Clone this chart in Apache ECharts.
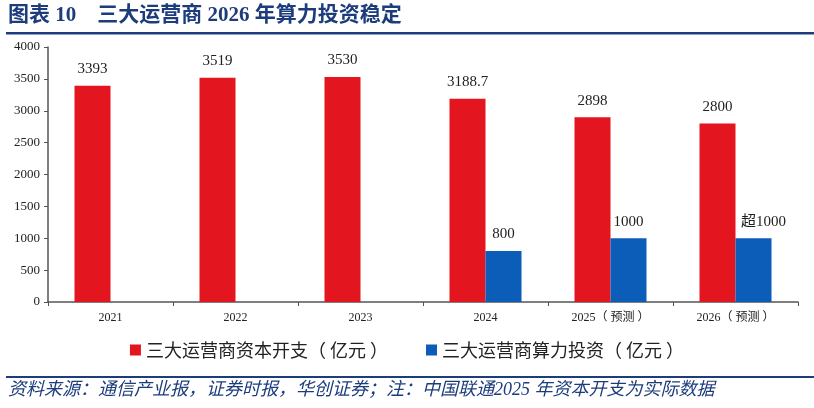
<!DOCTYPE html>
<html>
<head>
<meta charset="utf-8">
<script src="https://cdn.jsdelivr.net/npm/echarts@6/dist/echarts.min.js"></script>
<style>
html, body { margin: 0; padding: 0; background: #fff; }
#chart { width: 814px; height: 408px; }
</style>
</head>
<body>
<div id="chart"></div>
<script>
var years = ['2021', '2022', '2023', '2024', '2025（ 预测 ）', '2026（ 预测 ）'];
var capex = [3393, 3519, 3530, 3188.7, 2898, 2800];
var computeInv = [null, null, null, 800, 1000, 1000];
var computeLabels = ['', '', '', '800', '1000', '超1000'];
var seriesNames = ['三大运营商资本开支（ 亿元 ）', '三大运营商算力投资（ 亿元 ）'];
var yTicks = [0, 4000, 500];

var serif = '"Liberation Serif", "Noto Sans CJK SC", serif';
var cjk = '"Noto Sans CJK SC", sans-serif';
var titleBlue = '#1d3c7c';

var myChart = echarts.init(document.getElementById('chart'));

// the "超1000" label sits a bit to the right in the original
var computeData = computeInv.map(function (v, i) {
    var item = { value: v };
    if (computeLabels[i].length > 4) item.label = { offset: [10, 0] };
    return item;
});

var option = {
    animation: false,
    backgroundColor: '#fff',
    graphic: [
        {
            type: 'text', left: 8, top: 5,
            style: { text: '图表 10　三大运营商 2026 年算力投资稳定', fill: titleBlue,
                font: 'bold 21px ' + serif }
        },
        {
            type: 'rect', shape: { x: 6, y: 32, width: 808, height: 2.5 },
            style: { fill: titleBlue }
        },
        {
            type: 'rect', shape: { x: 6, y: 376, width: 808, height: 2 },
            style: { fill: titleBlue }
        },
        {
            type: 'text', left: 8, top: 381,
            style: { text: '资料来源：通信产业报，证券时报，华创证券；注：中国联通2025 年资本开支为实际数据',
                fill: titleBlue, font: 'italic 18px ' + serif }
        }
    ],
    legend: {
        data: seriesNames,
        left: 'center',
        top: 336,
        itemWidth: 11,
        itemHeight: 11,
        itemGap: 38,
        icon: 'rect',
        textStyle: { fontFamily: cjk, fontSize: 18, color: '#222' }
    },
    grid: { left: 48, right: 16, top: 47, bottom: 106 },
    xAxis: {
        type: 'category',
        data: years,
        axisLine: { lineStyle: { color: '#555', width: 1.5 } },
        axisTick: { show: true, length: 4, lineStyle: { color: '#555' } },
        axisLabel: { fontFamily: serif, fontSize: 12, color: '#222', margin: 10 }
    },
    yAxis: {
        type: 'value',
        min: yTicks[0],
        max: yTicks[1],
        interval: yTicks[2],
        splitLine: { show: false },
        axisLine: { show: true, lineStyle: { color: '#555', width: 1.5 } },
        axisTick: { show: true, length: 4, lineStyle: { color: '#555' } },
        axisLabel: { fontFamily: serif, fontSize: 13, color: '#222', margin: 8,
            formatter: function (v) { return String(v); } }
    },
    series: [
        {
            name: seriesNames[0],
            type: 'bar',
            data: capex,
            barWidth: 36,
            barGap: '0%',
            itemStyle: { color: '#e3151f' },
            label: { show: true, position: 'top', distance: 9,
                fontFamily: serif, fontSize: 15, color: '#222' }
        },
        {
            name: seriesNames[1],
            type: 'bar',
            data: computeData,
            barWidth: 36,
            itemStyle: { color: '#0b5db8' },
            label: { show: true, position: 'top', distance: 9,
                fontFamily: serif, fontSize: 15, color: '#222',
                formatter: function (p) { return computeLabels[p.dataIndex]; } }
        }
    ]
};
myChart.setOption(option);
</script>
</body>
</html>
